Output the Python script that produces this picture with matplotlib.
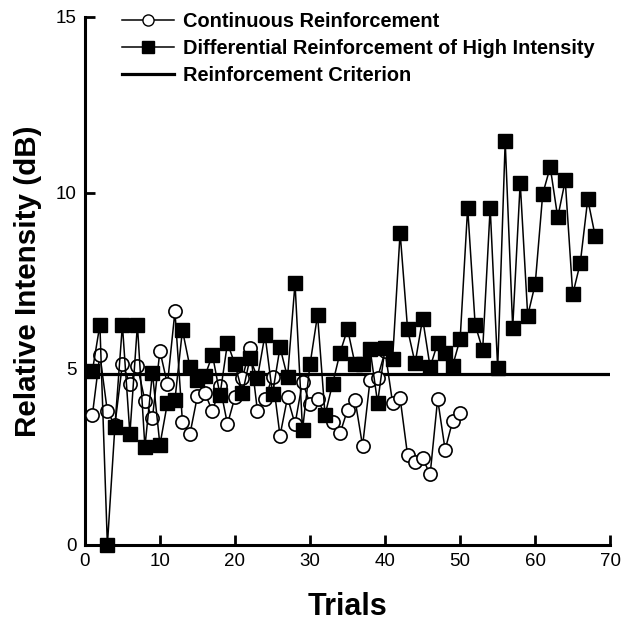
import matplotlib
matplotlib.use("Agg")
import matplotlib.pyplot as plt
from matplotlib.lines import Line2D

plt.rcParams['font.family'] = ['Liberation Sans', 'DejaVu Sans']

# Continuous Reinforcement (trials 1-50)
crf_trials = list(range(1, 51))
crf_values = [3.69, 5.40, 3.79, 3.40, 5.14, 4.57, 5.08, 4.10, 3.60, 5.51,
              4.56, 6.63, 3.50, 3.15, 4.23, 4.31, 3.79, 4.50, 3.43, 4.20,
              4.74, 5.59, 3.79, 4.14, 4.78, 3.10, 4.19, 3.43, 4.64, 4.00,
              4.14, 3.69, 3.48, 3.17, 3.84, 4.12, 2.81, 4.69, 4.75, 5.50,
              4.03, 4.17, 2.54, 2.34, 2.46, 2.00, 4.14, 2.70, 3.52, 3.74]

# Differential Reinforcement of High Intensity (trials 1-68)
drh_trials = list(range(1, 69))
drh_values = [4.94, 6.25, 0.00, 3.36, 6.25, 3.15, 6.25, 2.78, 4.88, 2.84,
              4.03, 4.12, 6.10, 5.05, 4.69, 4.80, 5.40, 4.26, 5.73, 5.13,
              4.31, 5.30, 4.75, 5.97, 4.29, 5.61, 4.76, 7.43, 3.27, 5.13,
              6.53, 3.69, 4.57, 5.46, 6.13, 5.13, 5.13, 5.56, 4.04, 5.60,
              5.28, 8.87, 6.12, 5.16, 6.43, 5.05, 5.73, 5.45, 5.09, 5.85,
              9.58, 6.25, 5.54, 9.58, 5.02, 11.46, 6.17, 10.29, 6.51, 7.41,
              9.97, 10.73, 9.30, 10.35, 7.12, 8.00, 9.82, 8.76]

criterion = 4.86

x_ticks = [0, 10, 20, 30, 40, 50, 60, 70]
y_ticks = [0, 5, 10, 15]

fig = plt.figure(figsize=(6.24, 6.22), dpi=100)
ax = fig.add_axes([0.136, 0.124, 0.842, 0.849])

ax.axhline(criterion, color='black', lw=2.3, zorder=2)
ax.plot(crf_trials, crf_values, color='black', lw=1.1, marker='o', ms=9.5,
        mfc='white', mec='black', mew=1.2, zorder=3)
ax.plot(drh_trials, drh_values, color='black', lw=1.1, marker='s', ms=9.5,
        mfc='black', mec='black', zorder=4, clip_on=False)

ax.set_xlim(0, 70)
ax.set_ylim(0, 15)
ax.set_xticks(x_ticks)
ax.set_yticks(y_ticks)
ax.tick_params(direction='in', length=7, width=2, labelsize=13.5, pad=6)
for side in ['top', 'right']:
    ax.spines[side].set_visible(False)
for side in ['left', 'bottom']:
    ax.spines[side].set_linewidth(2.2)

ax.set_xlabel('Trials', fontsize=22, fontweight='bold', labelpad=16)
ax.set_ylabel('Relative Intensity (dB)', fontsize=21.3, fontweight='bold', labelpad=10)

handles = [
    Line2D([], [], color='black', lw=1.1, marker='o', ms=8, mfc='white', mec='black'),
    Line2D([], [], color='black', lw=1.1, marker='s', ms=8, mfc='black'),
    Line2D([], [], color='black', lw=2.3),
]
labels = ['Continuous Reinforcement',
          'Differential Reinforcement of High Intensity',
          'Reinforcement Criterion']
leg = ax.legend(handles, labels, loc='upper left', bbox_to_anchor=(0.0705, 1.009),
                frameon=False, prop={'weight': 'bold', 'size': 14.4},
                handlelength=2.6, labelspacing=0.4, handletextpad=0.45,
                borderpad=0, borderaxespad=0)

fig.savefig('out.png', dpi=100)
